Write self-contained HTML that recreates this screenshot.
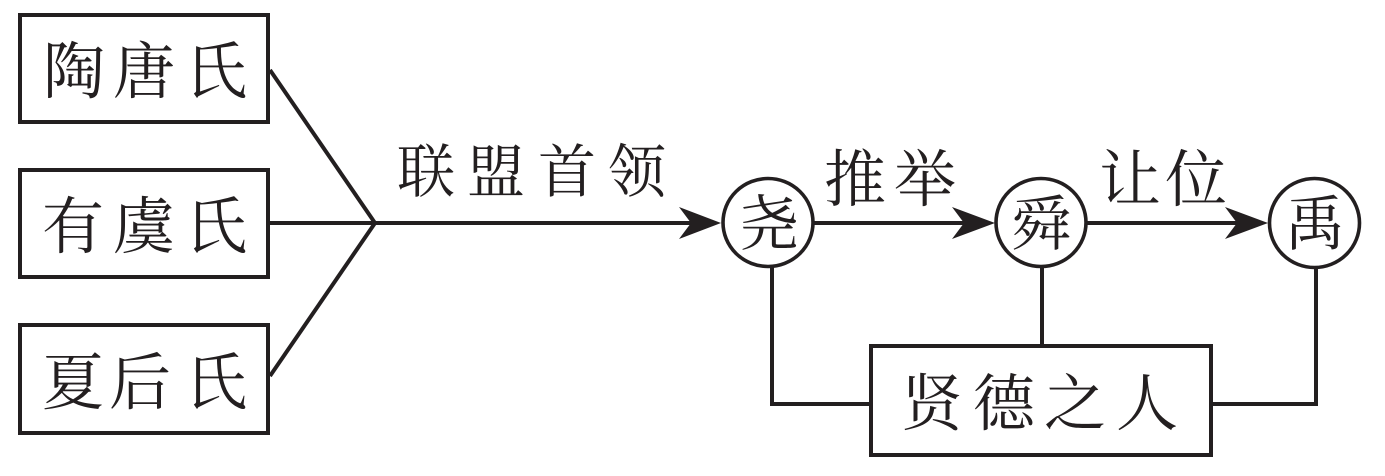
<!DOCTYPE html>
<html>
<head>
<meta charset="utf-8">
<style>
  html, body { margin: 0; padding: 0; background: #ffffff; }
  body { width: 1385px; height: 476px; overflow: hidden; }
  svg { display: block; }
  text { font-family: "Liberation Serif", "Noto Serif CJK SC", "Noto Sans CJK SC", serif; fill: #231f20; text-anchor: middle; }
</style>
</head>
<body>
<svg width="1385" height="476" viewBox="0 0 1385 476" xmlns="http://www.w3.org/2000/svg">
  <g fill="none" stroke="#231f20" stroke-width="4">
    <!-- left boxes -->
    <rect x="20" y="15" width="248" height="107"/>
    <rect x="20" y="170" width="248" height="107"/>
    <rect x="20" y="325" width="248" height="108"/>
    <!-- converging lines -->
    <line x1="270" y1="70" x2="375" y2="223"/>
    <line x1="270" y1="376" x2="375" y2="223"/>
    <line x1="270" y1="223" x2="700" y2="223"/>
    <!-- circle to circle -->
    <line x1="814" y1="223" x2="975" y2="223"/>
    <line x1="1087" y1="223" x2="1248" y2="223"/>
    <!-- circles -->
    <ellipse cx="768" cy="222.5" rx="45" ry="44" stroke-width="3.6"/>
    <ellipse cx="1041" cy="222.5" rx="45" ry="44" stroke-width="3.6"/>
    <ellipse cx="1314.5" cy="223" rx="45" ry="44.5" stroke-width="3.6"/>
    <!-- bottom box -->
    <rect x="871" y="346" width="340" height="109"/>
    <!-- connectors to bottom box -->
    <polyline points="772,267 772,404 869,404"/>
    <line x1="1042" y1="267" x2="1042" y2="344"/>
    <polyline points="1316,268 1316,404 1213,404"/>
  </g>
  <!-- arrowheads -->
  <g fill="#231f20">
    <polygon points="721,223 679,207 691,223 679,239"/>
    <polygon points="995,223 952,207 964,223 952,239"/>
    <polygon points="1268,223 1225,207 1237,223 1225,239"/>
  </g>
  <!-- left box labels -->
  <g font-size="62">
    <text x="74" y="93">陶</text>
    <text x="144" y="93">唐</text>
    <text x="216" y="93">氏</text>
    <text x="73" y="248">有</text>
    <text x="144" y="248">虞</text>
    <text x="216" y="248">氏</text>
    <text x="73" y="404">夏</text>
    <text x="140" y="404">后</text>
    <text x="216" y="404">氏</text>
  </g>
  <!-- top labels -->
  <g font-size="58">
    <text x="426" y="192">联</text>
    <text x="496" y="192">盟</text>
    <text x="567" y="192">首</text>
    <text x="637" y="192">领</text>
  </g>
  <g font-size="62">
    <text x="855" y="201">推</text>
    <text x="925" y="201">举</text>
    <text x="1130" y="201">让</text>
    <text x="1196" y="201">位</text>
  </g>
  <!-- circle labels -->
  <g font-size="60">
    <text x="769" y="245">尧</text>
    <text x="1041" y="245">舜</text>
    <text x="1315" y="245">禹</text>
  </g>
  <!-- bottom box label -->
  <g font-size="62">
    <text x="932" y="425">贤</text>
    <text x="1004" y="425">德</text>
    <text x="1075" y="425">之</text>
    <text x="1147" y="425">人</text>
  </g>
</svg>
</body>
</html>
